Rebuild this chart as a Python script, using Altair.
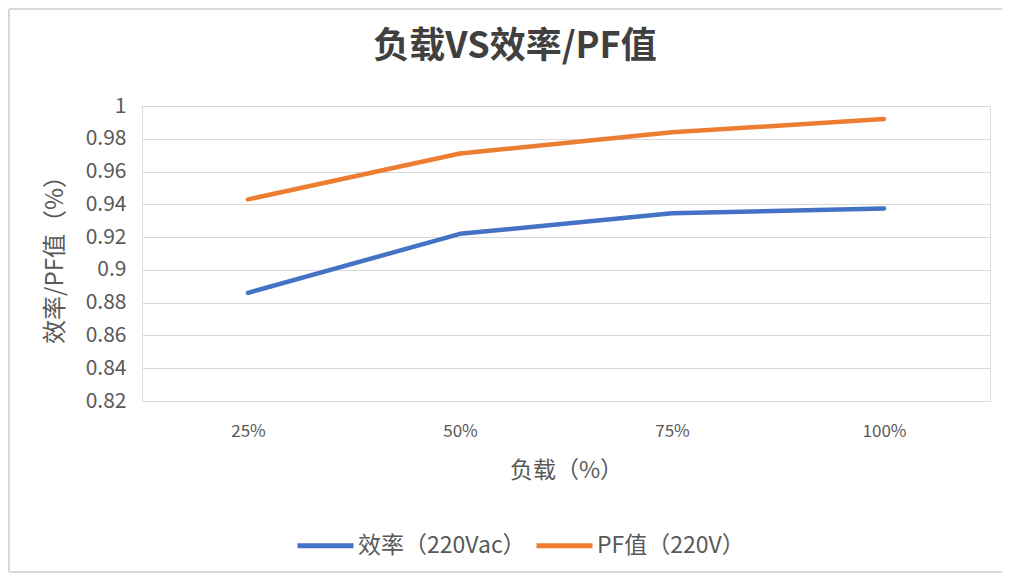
import altair as alt
import pandas as pd

loads = ["25%", "50%", "75%", "100%"]
efficiency = [0.886, 0.922, 0.9345, 0.9375]
pf = [0.943, 0.971, 0.984, 0.992]
series_names = ["效率（220Vac）", "PF值（220V）"]
y_ticks = [0.82, 0.84, 0.86, 0.88, 0.9, 0.92, 0.94, 0.96, 0.98, 1.0]

rows = []
for i, l in enumerate(loads):
    rows.append({"load": l, "series": series_names[0], "value": efficiency[i], "order": i})
    rows.append({"load": l, "series": series_names[1], "value": pf[i], "order": i})
df = pd.DataFrame(rows)

FONT = "Noto Sans CJK SC"
GRAY = "#595959"
BORDER = "#d9d9d9"

lines = alt.Chart(df).mark_line(strokeWidth=4.5, strokeCap="round", strokeJoin="round").encode(
    x=alt.X("load:O", sort=loads, scale=alt.Scale(type="point", padding=0.5),
            axis=alt.Axis(title="负载（%）", labelAngle=0, domain=False, ticks=False, grid=False,
                          labelPadding=22, titlePadding=20, labelFontSize=17, titleFontSize=23,
                          labelColor=GRAY, titleColor=GRAY, labelFont=FONT, titleFont=FONT,
                          titleFontWeight="normal")),
    y=alt.Y("value:Q", scale=alt.Scale(domain=[0.82, 1.0], nice=False, zero=False),
            axis=alt.Axis(title="效率/PF值（%）", values=y_ticks, domain=False, ticks=False,
                          labelExpr="format(datum.value, '.2~f')", gridColor="#d9d9d9",
                          gridWidth=1, labelPadding=16, titlePadding=18, labelFontSize=21,
                          titleFontSize=24, labelColor=GRAY, titleColor=GRAY, labelFont=FONT,
                          titleFont=FONT, titleFontWeight="normal")),
    color=alt.Color("series:N", sort=series_names,
                    scale=alt.Scale(domain=series_names, range=["#4472C4", "#ED7D31"]),
                    legend=alt.Legend(title=None, orient="none", legendX=153, legendY=409,
                                      direction="horizontal", symbolType="stroke",
                                      symbolSize=3136, symbolStrokeWidth=5, labelFontSize=23,
                                      labelColor=GRAY, labelFont=FONT, labelLimit=300,
                                      columnPadding=0, labelOffset=2)),
    order="order:Q",
)

one = pd.DataFrame({"a": [0]})
border_top = alt.Chart(one).mark_rule(stroke=BORDER, strokeWidth=2).encode(
    x=alt.value(-133), x2=alt.value(860), y=alt.value(-97))
border_left = alt.Chart(one).mark_rule(stroke=BORDER, strokeWidth=2).encode(
    x=alt.value(-133), y=alt.value(-97), y2=alt.value(466))
border_bottom = alt.Chart(one).mark_rule(stroke=BORDER, strokeWidth=2).encode(
    x=alt.value(-133), x2=alt.value(860), y=alt.value(466))

chart = alt.layer(border_top, border_left, border_bottom, lines).properties(
    width=848, height=295,
    autosize="none",
    padding={"left": 134, "top": 98, "right": 12, "bottom": 172},
    title=alt.TitleParams("负载VS效率/PF值", fontSize=36, fontWeight="bold", color="#404040",
                          font=FONT, anchor="middle", dx=-51, offset=-58),
).configure_view(stroke=None).configure(background="white")

chart.save("out.html", embed_options={"renderer": "svg", "actions": False})
